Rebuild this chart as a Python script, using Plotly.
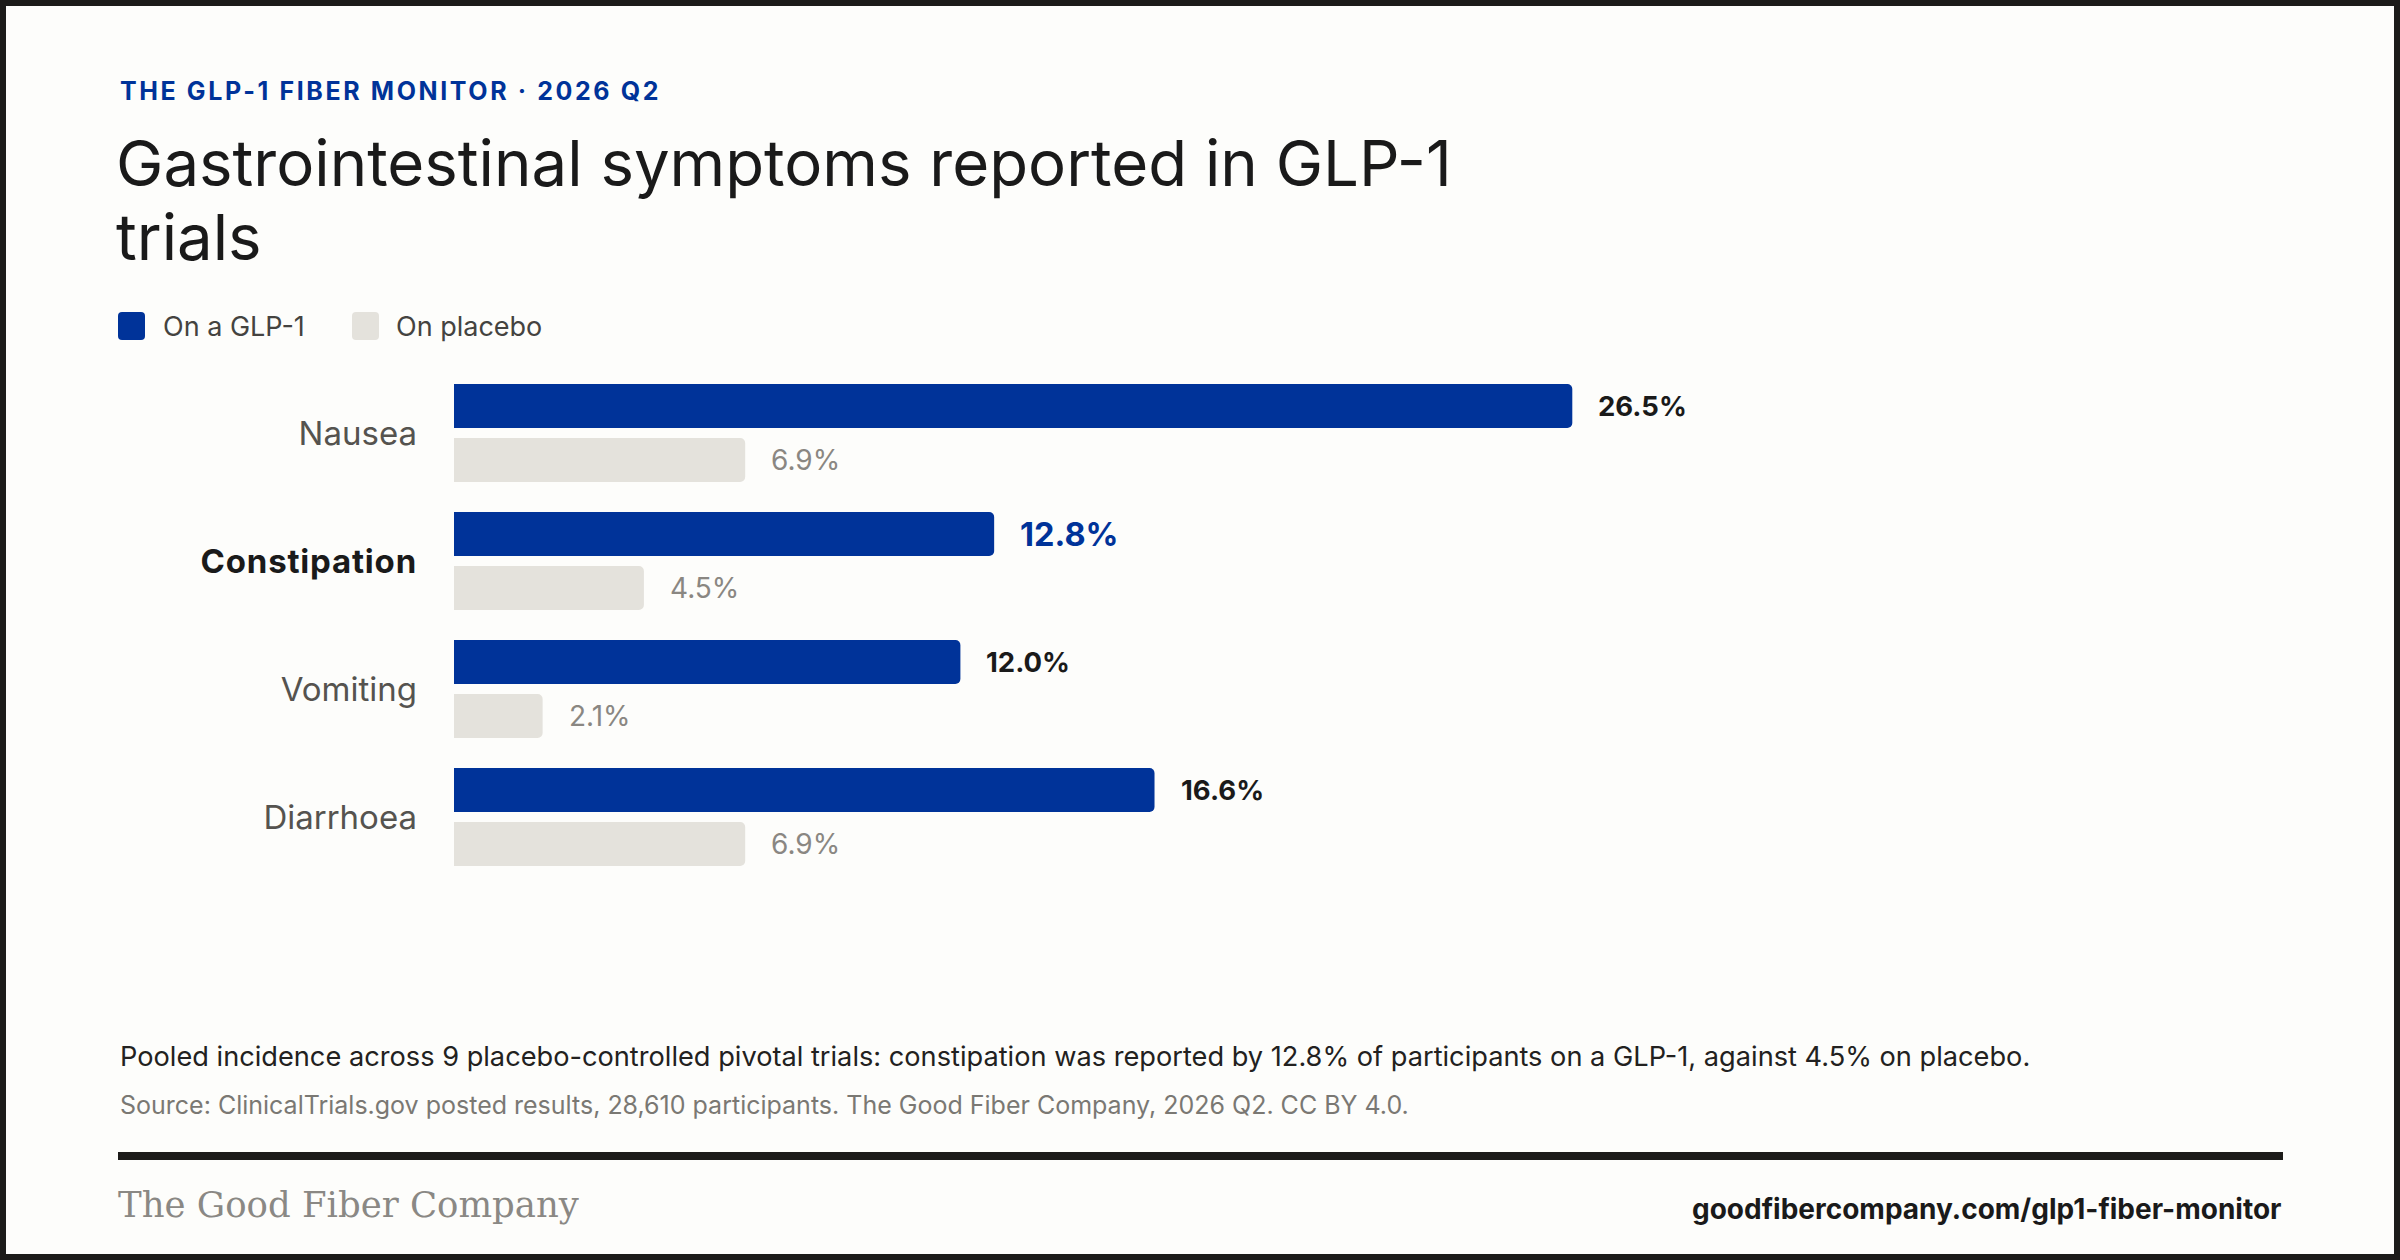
import plotly.graph_objects as go

# ---------------- data ----------------
categories = ["Nausea", "Constipation", "Vomiting", "Diarrhoea"]
glp1_values = [26.5, 12.8, 12.0, 16.6]
placebo_values = [6.9, 4.5, 2.1, 6.9]
series_names = ["On a GLP-1", "On placebo"]
highlight = "Constipation"

kicker = "THE GLP-1 FIBER MONITOR · 2026 Q2"
title_lines = ["Gastrointestinal symptoms reported in GLP-1", "trials"]
note = ("Pooled incidence across 9 placebo-controlled pivotal trials: constipation was "
        "reported by 12.8% of participants on a GLP-1, against 4.5% on placebo.")
source = ("Source: ClinicalTrials.gov posted results, 28,610 participants. "
          "The Good Fiber Company, 2026 Q2. CC BY 4.0.")
brand = "The Good Fiber Company"
url = "goodfibercompany.com/glp1-fiber-monitor"

# ---------------- style ----------------
W, H = 2400, 1260
ML, MR, MT, MB = 454, 680, 369, 379
PW, PH = W - ML - MR, H - MT - MB
XMAX = 30

BLUE = "#003399"
PLACEBO = "#e4e2dc"
BG = "#fdfdfb"
INK = "#1c1b19"
SANS = "Inter"
SERIF = "DejaVu Serif"


def px(x):
    return (x - ML) / PW


def py(y):
    return 1 - (y - MT) / PH


def rounded_rect(x0, y0, x1, y1, r):
    X = lambda v: px(v)
    Y = lambda v: py(v)
    return (f"M{X(x0 + r)},{Y(y0)} L{X(x1 - r)},{Y(y0)} Q{X(x1)},{Y(y0)} {X(x1)},{Y(y0 + r)} "
            f"L{X(x1)},{Y(y1 - r)} Q{X(x1)},{Y(y1)} {X(x1 - r)},{Y(y1)} "
            f"L{X(x0 + r)},{Y(y1)} Q{X(x0)},{Y(y1)} {X(x0)},{Y(y1 - r)} "
            f"L{X(x0)},{Y(y0 + r)} Q{X(x0)},{Y(y0)} {X(x0 + r)},{Y(y0)} Z")


fig = go.Figure()
fig.add_trace(go.Bar(
    y=categories, x=glp1_values, name=series_names[0], orientation="h",
    marker=dict(color=BLUE, cornerradius=5, line=dict(width=0)),
    hoverinfo="skip",
))
fig.add_trace(go.Bar(
    y=categories, x=placebo_values, name=series_names[1], orientation="h",
    marker=dict(color=PLACEBO, cornerradius=5, line=dict(width=0)),
    hoverinfo="skip",
))

ticktext = [f"<b><span style='color:#1a1a1a;letter-spacing:0.8px'>{c}</span></b>"
            if c == highlight else c for c in categories]

annotations = []
# value labels
for c, v in zip(categories, glp1_values):
    hl = c == highlight
    annotations.append(dict(
        x=v, y=c, xref="x", yref="y", text=f"{v:.1f}%", showarrow=False,
        xanchor="left", yanchor="middle", xshift=24, yshift=27,
        font=dict(family=SANS, size=32.5 if hl else 27.5, color=BLUE if hl else "#1a1a1a",
                  weight=700 if hl else 650),
    ))
for c, v in zip(categories, placebo_values):
    annotations.append(dict(
        x=v, y=c, xref="x", yref="y", text=f"{v:.1f}%", showarrow=False,
        xanchor="left", yanchor="middle", xshift=24, yshift=-27,
        font=dict(family=SANS, size=28, color="#8a8782"),
    ))

# header texts
annotations.append(dict(x=px(118), y=py(91), xref="paper", yref="paper",
                        text=f"<span style='letter-spacing:2.6px'>{kicker}</span>",
                        showarrow=False, xanchor="left", yanchor="middle",
                        font=dict(family=SANS, size=25, color=BLUE, weight=700)))
annotations.append(dict(x=px(114), y=py(162), xref="paper", yref="paper", text=title_lines[0],
                        showarrow=False, xanchor="left", yanchor="middle",
                        font=dict(family=SANS, size=63.5, color="#1a1a1a")))
annotations.append(dict(x=px(114), y=py(236), xref="paper", yref="paper", text=title_lines[1],
                        showarrow=False, xanchor="left", yanchor="middle",
                        font=dict(family=SANS, size=63.5, color="#1a1a1a")))

# legend
shapes = []
legend_items = [(series_names[0], BLUE, 118, 161), (series_names[1], PLACEBO, 352, 394)]
for name, col, sx, tx in legend_items:
    shapes.append(dict(type="path", xref="paper", yref="paper",
                       path=rounded_rect(sx, 312, sx + 27, 340, 4),
                       fillcolor=col, line=dict(width=0)))
    annotations.append(dict(x=px(tx), y=py(326), xref="paper", yref="paper", text=name,
                            showarrow=False, xanchor="left", yanchor="middle",
                            font=dict(family=SANS, size=27, color="#444340")))

# footer
annotations.append(dict(x=px(118), y=py(1056), xref="paper", yref="paper", text=note,
                        showarrow=False, xanchor="left", yanchor="middle",
                        font=dict(family=SANS, size=27.2, color="#222120")))
annotations.append(dict(x=px(118), y=py(1105), xref="paper", yref="paper", text=source,
                        showarrow=False, xanchor="left", yanchor="middle",
                        font=dict(family=SANS, size=25, color="#7a7873")))
annotations.append(dict(x=px(116), y=py(1204), xref="paper", yref="paper", text=brand,
                        showarrow=False, xanchor="left", yanchor="middle",
                        font=dict(family=SERIF, size=35.5, color="#8a8884")))
annotations.append(dict(x=px(2283), y=py(1209), xref="paper", yref="paper", text=url,
                        showarrow=False, xanchor="right", yanchor="middle",
                        font=dict(family=SANS, size=28, color="#1a1a1a", weight=700)))

# rule and frame
shapes.append(dict(type="line", xref="paper", yref="paper", x0=px(118), x1=px(2283),
                   y0=py(1156), y1=py(1156), line=dict(color=INK, width=8)))
shapes.append(dict(type="rect", xref="paper", yref="paper", x0=px(3), x1=px(W - 3),
                   y0=py(3), y1=py(H - 3), line=dict(color=INK, width=6),
                   fillcolor="rgba(0,0,0,0)"))

fig.update_layout(
    width=W, height=H,
    margin=dict(l=ML, r=MR, t=MT, b=MB, pad=0),
    paper_bgcolor=BG, plot_bgcolor=BG,
    barmode="group", bargap=0.156, bargroupgap=0.185,
    showlegend=False,
    xaxis=dict(range=[0, XMAX], visible=False, fixedrange=True),
    yaxis=dict(autorange="reversed", tickmode="array", tickvals=categories,
               ticktext=ticktext, ticks="", showline=False, showgrid=False,
               zeroline=False, ticklabelstandoff=36,
               tickfont=dict(family=SANS, size=33, color="#55534f"), fixedrange=True),
    annotations=annotations, shapes=shapes,
    hovermode=False,
)

fig.write_html(
    "out.html",
    config={"displayModeBar": False},
    post_script="document.body.style.margin='0';document.body.style.padding='0';"
                "document.body.style.background='%s';" % BG,
)
